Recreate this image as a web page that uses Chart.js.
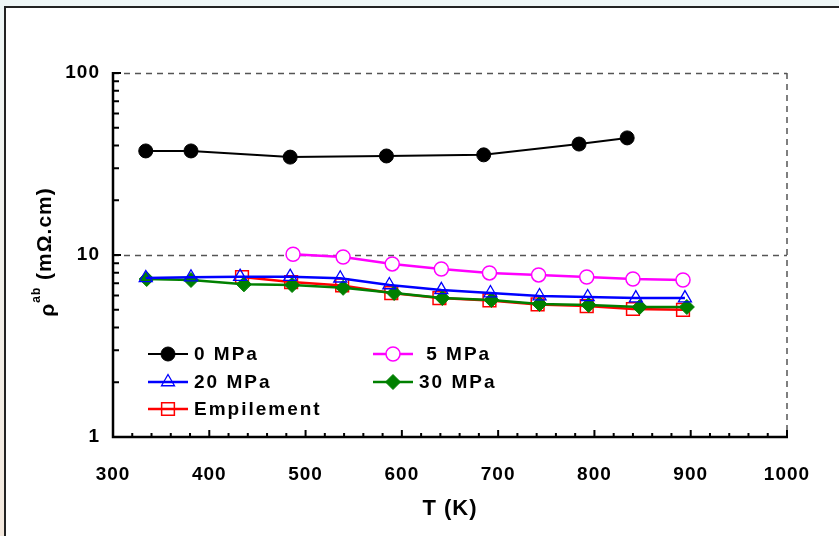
<!DOCTYPE html>
<html>
<head>
<meta charset="utf-8">
<script src="https://cdn.jsdelivr.net/npm/chart.js@4.4.1/dist/chart.umd.min.js"></script>
<style>
  html, body { margin: 0; padding: 0; }
  body { width: 839px; height: 536px; overflow: hidden; background: linear-gradient(to bottom, #eef6f6, #f4e9de); position: relative; }
  #cadre { position: absolute; left: 4px; top: 6px; width: 900px; height: 600px; background: #fff; border-left: 2px solid #222; border-top: 2px solid #222; }
  #zone { position: absolute; left: 0; top: 0; width: 839px; height: 536px; }
</style>
</head>
<body>
<div id="cadre"></div>
<div id="zone"><canvas id="grafica"></canvas></div>
<script>
// temperatures (K) et resistivites (mOhm.cm)
const t0 = [334, 381, 484, 584, 685, 784, 834];
const r0 = [37.3, 37.3, 34.5, 35.0, 35.5, 40.7, 44.0];

const t5 = [487, 539, 590, 641, 691, 742, 792, 840, 892];
const r5 = [10.1, 9.75, 8.93, 8.38, 7.97, 7.77, 7.57, 7.38, 7.29];

const t20 = [334, 381, 432, 484, 536, 587, 641, 692, 743, 793, 843, 894];
const r20 = [7.48, 7.55, 7.6, 7.6, 7.45, 6.84, 6.43, 6.18, 5.95, 5.88, 5.8, 5.8];

const t30 = [335, 381, 436, 486, 539, 592, 642, 693, 743, 794, 847, 896];
const r30 = [7.38, 7.29, 6.9, 6.84, 6.6, 6.18, 5.8, 5.66, 5.38, 5.31, 5.18, 5.18];

const tEmp = [434, 485, 538, 589, 639, 691, 741, 792, 840, 892];
const rEmp = [7.57, 7.1, 6.8, 6.18, 5.8, 5.63, 5.35, 5.24, 5.05, 5.0];

const yTicks = [1, 10, 100];
const etiquettes = ['0 MPa', ' 5 MPa', '20 MPa', '30 MPa', 'Empilement'];

const puntos = (xs, ys) => xs.map((x, i) => ({ x: x, y: ys[i] }));

const fuente = '"Liberation Sans", Arial, sans-serif';

function marcador(ctx, ds, x, y) {
    const r = ds.pointRadius;
    ctx.save();
    ctx.beginPath();
    if (ds.pointStyle === 'circle') {
        ctx.arc(x, y, r, 0, Math.PI * 2);
    } else if (ds.pointStyle === 'triangle') {
        ctx.moveTo(x, y - r);
        ctx.lineTo(x + r * 0.866, y + r * 0.5);
        ctx.lineTo(x - r * 0.866, y + r * 0.5);
        ctx.closePath();
    } else if (ds.pointStyle === 'rect') {
        const s = r * Math.SQRT1_2;
        ctx.rect(x - s, y - s, s * 2, s * 2);
    } else {
        ctx.moveTo(x, y - r); ctx.lineTo(x + r, y); ctx.lineTo(x, y + r); ctx.lineTo(x - r, y);
        ctx.closePath();
    }
    ctx.fillStyle = ds.pointBackgroundColor;
    ctx.fill();
    ctx.lineWidth = ds.pointBorderWidth;
    ctx.strokeStyle = ds.borderColor;
    ctx.stroke();
    ctx.restore();
}

const cadrePlugin = {
    id: 'cadre',
    beforeDraw(chart) {
        chart.ctx.letterSpacing = '1px';
    },
    beforeDatasetsDraw(chart) {
        const { ctx, chartArea: a, scales } = chart;
        ctx.save();
        // lignes pointillees
        ctx.strokeStyle = '#555';
        ctx.lineWidth = 1.5;
        ctx.setLineDash([6, 5]);
        ctx.beginPath();
        [10, 100].forEach(v => {
            const y = Math.round(scales.y.getPixelForValue(v)) + 0.5;
            ctx.moveTo(a.left, y); ctx.lineTo(a.right, y);
        });
        ctx.moveTo(a.right, a.top); ctx.lineTo(a.right, a.bottom);
        ctx.stroke();
        ctx.setLineDash([]);

        // axes
        ctx.strokeStyle = '#000';
        ctx.lineWidth = 2.5;
        ctx.beginPath();
        ctx.moveTo(a.left, a.top - 1); ctx.lineTo(a.left, a.bottom); ctx.lineTo(a.right + 1, a.bottom);
        ctx.stroke();

        // graduations vers l'interieur
        ctx.lineWidth = 2;
        ctx.beginPath();
        for (let d = 1; d < 100; d *= 10) {
            for (let k = 1; k <= 10; k++) {
                const v = d * k;
                const y = scales.y.getPixelForValue(v);
                const l = (k === 1 || k === 10) ? 8 : 6;
                ctx.moveTo(a.left, y); ctx.lineTo(a.left + l, y);
            }
        }
        for (let t = 300; t <= 1000; t += 20) {
            const x = scales.x.getPixelForValue(t);
            const l = (t % 100 === 0) ? 7 : 4;
            ctx.moveTo(x, a.bottom); ctx.lineTo(x, a.bottom - l);
        }
        ctx.stroke();
        ctx.restore();
    },
    afterDraw(chart) {
        const { ctx } = chart;
        const ds = chart.data.datasets;
        ctx.save();
        // titre de l'axe y avec exposant
        ctx.translate(45, 252);
        ctx.rotate(-Math.PI / 2);
        ctx.fillStyle = '#000';
        ctx.textBaseline = 'middle';
        ctx.textAlign = 'left';
        ctx.letterSpacing = '1px';
        ctx.font = 'bold 21px ' + fuente;
        const w1 = ctx.measureText('ρ').width;
        ctx.font = 'bold 12px ' + fuente;
        const w2 = ctx.measureText('ab').width;
        ctx.font = 'bold 21px ' + fuente;
        const w3 = ctx.measureText(' (mΩ.cm)').width;
        let x0 = -(w1 + w2 + w3) / 2;
        ctx.fillText('ρ', x0, 3);
        ctx.font = 'bold 12px ' + fuente;
        ctx.fillText('ab', x0 + w1, -8);
        ctx.font = 'bold 21px ' + fuente;
        ctx.fillText(' (mΩ.cm)', x0 + w1 + w2, 0);
        ctx.restore();

        // legende a l'interieur du graphique
        const cols = [148, 373];
        const rows = [354, 382, 409];
        const places = [[0, 0], [1, 0], [0, 1], [1, 1], [0, 2]];
        ctx.save();
        ctx.font = 'bold 19px ' + fuente;
        ctx.letterSpacing = '2px';
        ctx.textBaseline = 'middle';
        ctx.fillStyle = '#000';
        places.forEach((p, i) => {
            const x = cols[p[0]], y = rows[p[1]];
            ctx.strokeStyle = ds[i].borderColor;
            ctx.lineWidth = ds[i].borderWidth;
            ctx.beginPath();
            ctx.moveTo(x, y); ctx.lineTo(x + 40, y);
            ctx.stroke();
            marcador(ctx, ds[i], x + 20, y);
            ctx.fillText(etiquettes[i], x + 46, y + 1);
        });
        ctx.restore();
    }
};

const ctx = document.getElementById('grafica');

new Chart(ctx, {
    type: 'line',
    data: {
        datasets: [{
            label: etiquettes[0],
            data: puntos(t0, r0),
            borderColor: '#000000',
            pointBackgroundColor: '#000000',
            pointStyle: 'circle',
            pointRadius: 7,
            pointBorderWidth: 1,
            borderWidth: 2
        }, {
            label: etiquettes[1],
            data: puntos(t5, r5),
            borderColor: '#ff00ff',
            pointBackgroundColor: '#ffffff',
            pointStyle: 'circle',
            pointRadius: 7,
            pointBorderWidth: 1.5,
            borderWidth: 2.5
        }, {
            label: etiquettes[2],
            data: puntos(t20, r20),
            borderColor: '#0000ff',
            pointBackgroundColor: 'rgba(255,255,255,0)',
            pointStyle: 'triangle',
            pointRadius: 7.5,
            pointBorderWidth: 1.3,
            borderWidth: 2.5
        }, {
            label: etiquettes[3],
            data: puntos(t30, r30),
            borderColor: '#008000',
            pointBackgroundColor: '#008000',
            pointStyle: 'rectRot',
            pointRadius: 7.5,
            pointBorderWidth: 1,
            borderWidth: 2.5
        }, {
            label: etiquettes[4],
            data: puntos(tEmp, rEmp),
            borderColor: '#ff0000',
            pointBackgroundColor: 'rgba(255,255,255,0)',
            pointStyle: 'rect',
            pointRadius: 9,
            pointBorderWidth: 1.5,
            borderWidth: 2.5
        }]
    },
    options: {
        responsive: true,
        maintainAspectRatio: false,
        animation: false,
        layout: { padding: { top: 73, right: 52, left: 0, bottom: 0 } },
        scales: {
            x: {
                type: 'linear',
                min: 300,
                max: 1000,
                grid: { display: false, drawTicks: false },
                border: { display: false },
                ticks: {
                    stepSize: 100,
                    padding: 26,
                    color: '#000',
                    font: { family: fuente, size: 19, weight: 'bold' },
                    callback: (v) => String(v)
                },
                title: {
                    display: true,
                    text: 'T (K)',
                    color: '#000',
                    padding: { top: 0, bottom: 14 },
                    font: { family: fuente, size: 22, weight: 'bold' }
                },
                afterFit: (scale) => { scale.height = 99; }
            },
            y: {
                type: 'logarithmic',
                min: 1,
                max: 100,
                grid: { display: false, drawTicks: false },
                border: { display: false },
                afterBuildTicks: (scale) => { scale.ticks = yTicks.map(v => ({ value: v })); },
                ticks: {
                    padding: 13,
                    color: '#000',
                    font: { family: fuente, size: 19, weight: 'bold' },
                    callback: (v) => String(v)
                },
                afterFit: (scale) => { scale.width = 113; }
            }
        },
        plugins: {
            legend: { display: false },
            tooltip: { enabled: false }
        }
    },
    plugins: [cadrePlugin]
});
</script>
</body>
</html>
